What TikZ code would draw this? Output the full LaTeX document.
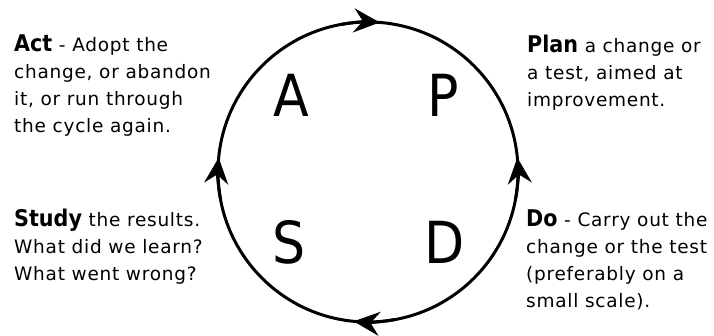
\documentclass[tikz,border=0pt]{standalone}
\usepackage{fontspec}
\setmainfont{DejaVu Sans}[LetterSpace=4]
\newfontfamily\condfont{DejaVu Sans Condensed}
\usetikzlibrary{arrows.meta}
\newcommand\lblfont{\condfont\fontsize{23}{27}\selectfont\bfseries}
\tikzset{
  ring/.style={line width=3pt, line cap=round},
  tip/.style={ring, -{Stealth[length=26pt,width=24pt,inset=9pt]}},
  desc/.style={anchor=base west, inner sep=0pt, align=left, font=\fontsize{18.5}{27}\selectfont},
  big/.style={anchor=base, inner sep=0pt, font=\condfont\fontsize{58}{60}\selectfont}
}
\begin{document}
\begin{tikzpicture}[x=1pt,y=1pt]
\useasboundingbox (0,0) rectangle (714,335);
\coordinate (c) at (368,163);
\draw[ring] (c) circle[radius=150];
\draw[tip] ([shift={(100:150)}]c) arc[start angle=100,end angle=85.5,radius=150];
\draw[tip] ([shift={(280:150)}]c) arc[start angle=280,end angle=264.5,radius=150];
\draw[tip] ([shift={(190:150)}]c) arc[start angle=190,end angle=174.5,radius=150];
\draw[tip] ([shift={(-10:150)}]c) arc[start angle=-10,end angle=5.5,radius=150];
\node[big] (a) at (291,218) {A};
\node[big] (p) at (443,218) {P};
\node[big] (s) at (289,72) {S};
\node[big] (d) at (445,72) {D};
\node[desc] (act) at (14,202) {{\lblfont Act} - Adopt the\\change, or abandon\\it, or run through\\the cycle again.};
\node[desc] (plan) at (527,228) {{\lblfont Plan} a change or\\a test, aimed at\\improvement.};
\node[desc] (study) at (14,55) {{\lblfont Study} the results.\\What did we learn?\\What went wrong?};
\node[desc] (do) at (526,28) {{\lblfont Do} - Carry out the\\change or the test\\(preferably on a\\small scale).};
\end{tikzpicture}
\end{document}
